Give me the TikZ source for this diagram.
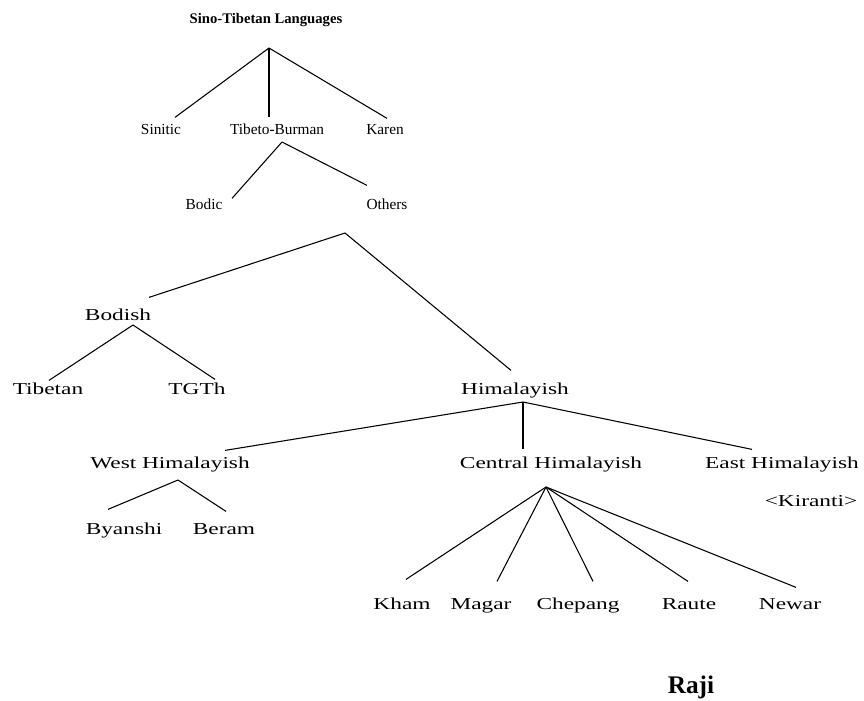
\documentclass[tikz,border=0pt]{standalone}
\usepackage{fontspec}
\setmainfont{Liberation Serif}
\newfontfamily\widefont[FakeStretch=1.4]{Liberation Serif}
\tikzset{
  toptext/.style={font=\fontsize{11.5}{13}\selectfont, inner sep=0pt, text height=1.5ex, text depth=.25ex},
  lowtext/.style={font=\widefont\fontsize{12.5}{15}\selectfont, inner sep=0pt, text height=1.5ex, text depth=.25ex},
  branchline/.style={line width=0.8pt},
}

\begin{document}
\begin{tikzpicture}[x=0.75pt,y=-0.75pt]

    \useasboundingbox (0,0) rectangle (864,700);

    \node[font=\bfseries\fontsize{11}{13}\selectfont] (title) at (266,20) {Sino-Tibetan Languages}; % ----- Titre

    \foreach \n/\x/\y/\t in {sinitic/161/131/Sinitic , tibbur/277/131/Tibeto-Burman , karen/385/131/Karen , bodic/204/206/Bodic , others/387/206/Others} % ----- Haut
        \node[toptext] (\n) at (\x,\y) {\t};

    \foreach \n/\x/\y/\t in {bodish/118/317/Bodish , tibetan/48/391/Tibetan , tgth/197/391/TGTh , himal/515/391/Himalayish,
                             westh/170/465/West Himalayish , centh/551/465/Central Himalayish , easth/782/465/East Himalayish,
                             byanshi/124/531/Byanshi , beram/224/531/Beram,
                             kham/402/606/Kham , magar/481/606/Magar , chepang/578/606/Chepang , raute/689/606/Raute , newar/790/606/Newar} % ----- Bas
        \node[lowtext] (\n) at (\x,\y) {\t};

    \node[lowtext] (kiranti) at (811,503) {<Kiranti>};
    \node[font=\bfseries\fontsize{19}{22}\selectfont, anchor=base] (raji) at (691,693) {Raji};

    \coordinate (stfork) at (269,48); % ----- Branches
    \coordinate (tbfork) at (282,142);
    \coordinate (bcfork) at (345,233);
    \coordinate (bhfork) at (133,325);
    \coordinate (hmfork) at (523,402);
    \coordinate (whfork) at (178,480);
    \coordinate (chfork) at (546,487);

    \foreach \f/\n/\dx/\dy in {stfork/sinitic/14/-8 , stfork/tibbur/-8/-8 , stfork/karen/2/-7,
                               tbfork/bodic/28/-2 , tbfork/others/-20/-15,
                               bcfork/bodish/31/-14 , bcfork/himal/-4/-15,
                               bhfork/tibetan/1/-5 , bhfork/tgth/18/-6,
                               hmfork/westh/55/-9 , hmfork/centh/-28/-10 , hmfork/easth/-30/-10,
                               whfork/byanshi/-16/-16 , whfork/beram/2/-14,
                               chfork/kham/4/-21 , chfork/magar/16/-19 , chfork/chepang/15/-19 , chfork/raute/-1/-19 , chfork/newar/6/-13}
        \draw[branchline] (\f) -- ([shift={(\dx,\dy)}]\n.north);

\end{tikzpicture}
\end{document}
